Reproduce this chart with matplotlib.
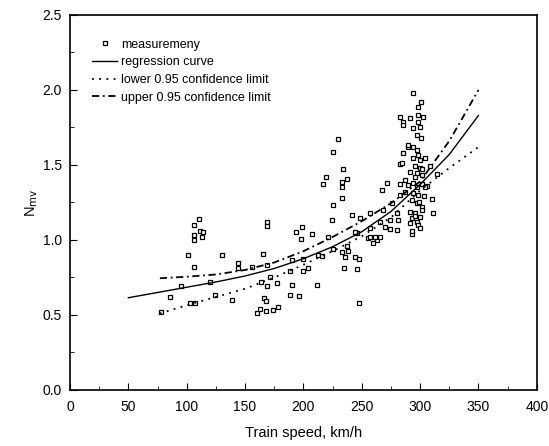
import matplotlib
matplotlib.use('Agg')
import matplotlib.pyplot as plt
from matplotlib.ticker import MultipleLocator

plt.rcParams['font.family'] = ['Liberation Sans', 'DejaVu Sans']

# measured points (train speed km/h, N_mv)
speed = [78, 85.7, 94.9, 106, 101.4, 130.3, 106.3, 106.3, 106.3, 110.8, 111.4, 114.3, 112.9,
         102.9, 107.4, 120, 124.6, 138.9, 143.7, 144.3, 156.3, 165.7, 168.6, 169, 169,
         160, 163, 166, 168, 168, 174.3, 178.6, 171.4, 168.6, 163.9, 177, 188.6, 188.6,
         225.1, 224.6, 193.7, 198.9, 207.1, 197.7, 221.4, 190, 200, 212.8, 215.7, 225.7,
         232.9, 237.1, 238.6, 235.7, 244.3, 248, 234.9, 246.3, 199.4, 204.3, 190, 212,
         196.3, 247.4, 241.4, 248.6, 257.1, 257.1, 245.7, 255.7, 260, 262.9,
         229.4, 225.7, 233.7, 219.4, 216.6, 232.9, 237.1, 232.9, 232.9,
         293.7, 300.6, 298.6, 282.9, 285.7, 291.4, 298.6, 302.9, 298.6, 285.1, 294.3, 300,
         297.1, 300.6, 290, 294.3, 297.1, 285.7, 298.6, 294.3, 300, 304.3, 282.9, 295.7,
         300, 308.6, 291.4, 297.1, 301.4, 314.3, 271.4, 267.1, 282.9, 287.1, 290, 294.3,
         297.1, 301.4, 305.7, 287.1, 294.3, 298.6, 282.9, 310, 292.9, 297.1, 301.4, 275.7,
         268.6, 291.4, 295.7, 301.4, 311.4, 292.9, 297.1, 300, 280, 281.4, 274.3, 270,
         265.7, 291.4, 298.6, 274.3, 280, 244.3, 292.9, 257, 261.4, 265.7,
         284.3, 290, 296, 299, 303, 296, 300, 304, 293, 302]
nmv = [0.52, 0.62, 0.69, 0.82, 0.90, 0.90, 1.00, 1.035, 1.10, 1.14, 1.06, 1.05, 1.02,
       0.58, 0.58, 0.72, 0.63, 0.60, 0.845, 0.81, 0.82, 0.905, 0.83, 1.12, 1.09,
       0.515, 0.54, 0.61, 0.59, 0.527, 0.533, 0.555, 0.755, 0.69, 0.72, 0.71, 0.79, 0.633,
       1.233, 1.133, 1.055, 1.084, 1.04, 1.004, 1.018, 0.867, 0.871, 0.90, 0.893, 0.938,
       0.922, 0.96, 0.929, 0.889, 0.884, 0.871, 0.811, 0.804, 0.796, 0.811, 0.70, 0.698,
       0.627, 0.578, 1.167, 1.144, 1.178, 1.078, 1.044, 1.011, 0.978, 1.0,
       1.671, 1.589, 1.471, 1.42, 1.373, 1.389, 1.404, 1.351, 1.278,
       1.982, 1.922, 1.889, 1.822, 1.789, 1.811, 1.833, 1.822, 1.789, 1.767, 1.744, 1.751,
       1.70, 1.678, 1.622, 1.622, 1.60, 1.578, 1.567, 1.544, 1.533, 1.544, 1.507, 1.493,
       1.478, 1.493, 1.455, 1.444, 1.433, 1.44, 1.378, 1.333, 1.373, 1.40, 1.367, 1.378,
       1.356, 1.373, 1.36, 1.322, 1.311, 1.30, 1.30, 1.271, 1.267, 1.244, 1.222, 1.244,
       1.20, 1.189, 1.178, 1.20, 1.178, 1.144, 1.122, 1.155, 1.178, 1.133, 1.133, 1.089,
       1.122, 1.111, 1.10, 1.071, 1.067, 1.055, 1.04, 1.022, 1.022, 1.022,
       1.511, 1.633, 1.42, 1.25, 1.29, 1.16, 1.08, 1.35, 1.06, 1.47]

# regression curve and confidence limits
reg_x = [50, 75, 100, 125, 150, 175, 200, 225, 250, 275, 300, 325, 350]
reg_y = [0.615, 0.65, 0.685, 0.72, 0.76, 0.81, 0.875, 0.955, 1.055, 1.19, 1.37, 1.57, 1.83]
low_x = [77, 100, 125, 150, 175, 200, 225, 250, 275, 300, 325, 350]
low_y = [0.51, 0.565, 0.62, 0.675, 0.75, 0.835, 0.925, 1.025, 1.15, 1.33, 1.48, 1.62]
up_x = [77, 100, 125, 150, 175, 200, 225, 250, 275, 300, 325, 350]
up_y = [0.745, 0.755, 0.77, 0.80, 0.85, 0.925, 1.02, 1.125, 1.245, 1.39, 1.66, 2.0]

fig = plt.figure(figsize=(5.49, 4.46), dpi=100)
ax = fig.add_axes([0.1275, 0.1256, 0.8503, 0.8408])

ax.plot(speed, nmv, 's', mfc='white', mec='black', ms=3.4, mew=0.9, label='measuremeny')
ax.plot(reg_x, reg_y, '-', color='black', lw=1.0, label='regression curve')
ax.plot(low_x, low_y, color='black', lw=1.3, ls=(0, (1, 3)),
        label='lower 0.95 confidence limit')
ax.plot(up_x, up_y, color='black', lw=1.3, ls=(0, (4, 2, 1, 2)),
        label='upper 0.95 confidence limit')

ax.set_xlim(0, 400)
ax.set_ylim(0, 2.5)
ax.xaxis.set_major_locator(MultipleLocator(50))
ax.xaxis.set_minor_locator(MultipleLocator(25))
ax.yaxis.set_major_locator(MultipleLocator(0.5))
ax.yaxis.set_minor_locator(MultipleLocator(0.25))
ax.tick_params(which='both', direction='in', labelsize=10)
ax.tick_params(axis='x', which='major', pad=7)
ax.tick_params(axis='y', which='major', pad=6)
ax.tick_params(which='major', length=5)
ax.tick_params(which='minor', length=3)
for s in ax.spines.values():
    s.set_linewidth(1.2)

ax.set_xlabel('Train speed, km/h', fontsize=10.5, labelpad=9)
ax.set_ylabel(r'N$_{\mathrm{mv}}$', fontsize=10.5, labelpad=2)

ax.legend(loc='upper left', bbox_to_anchor=(0.037, 0.95), frameon=False, fontsize=9,
          handlelength=2.0, handletextpad=0.3, labelspacing=0.45, borderaxespad=0)

fig.savefig('out.png', dpi=100)
